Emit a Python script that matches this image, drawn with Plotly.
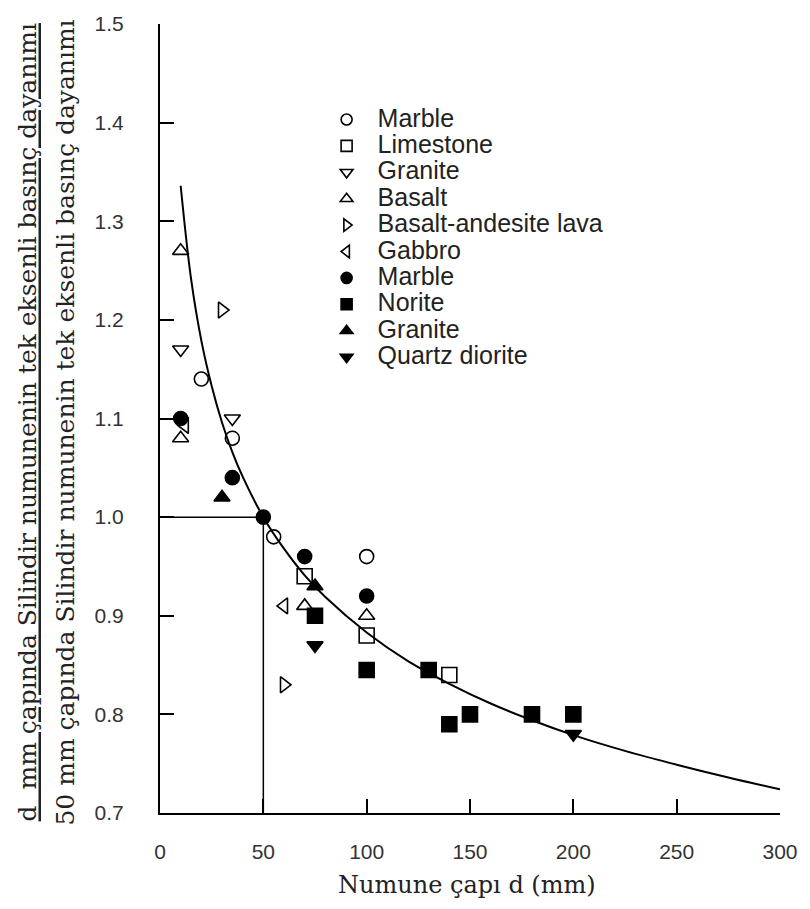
import plotly.graph_objects as go

# ---- data ----
series_names = ["Marble", "Limestone", "Granite", "Basalt", "Basalt-andesite lava",
                "Gabbro", "Marble", "Norite", "Granite", "Quartz diorite"]
series_symbols = ["circle-open", "square-open", "triangle-down-open", "triangle-up-open",
                  "triangle-right-open", "triangle-left-open", "circle", "square",
                  "triangle-up", "triangle-down"]

marble_open_x = [20, 35, 55, 100]
marble_open_y = [1.14, 1.08, 0.98, 0.96]
limestone_x = [70, 100, 140]
limestone_y = [0.94, 0.88, 0.84]
granite_open_x = [10, 35]
granite_open_y = [1.17, 1.10]
basalt_x = [10, 10, 70, 100]
basalt_y = [1.27, 1.08, 0.91, 0.90]
lava_x = [30, 60]
lava_y = [1.21, 0.83]
gabbro_x = [12, 60]
gabbro_y = [1.093, 0.91]
marble_fill_x = [10, 35, 50, 70, 100]
marble_fill_y = [1.10, 1.04, 1.00, 0.96, 0.92]
norite_x = [75, 100, 130, 140, 150, 180, 200]
norite_y = [0.90, 0.845, 0.845, 0.79, 0.80, 0.80, 0.80]
granite_fill_x = [30, 75]
granite_fill_y = [1.02, 0.93]
qdiorite_x = [75, 200]
qdiorite_y = [0.87, 0.78]

curve_x = [10, 15, 20, 25, 30, 35, 40, 50, 60, 70, 80, 100, 120, 140, 160, 180,
           200, 225, 250, 275, 300]
curve_y = [1.336, 1.242, 1.179, 1.133, 1.096, 1.066, 1.041, 1.000, 0.968, 0.941,
           0.919, 0.883, 0.854, 0.831, 0.811, 0.794, 0.779, 0.763, 0.749, 0.736, 0.724]

ref_x = [0, 50, 50]
ref_y = [1.0, 1.0, 0.7]

x_ticks = [0, 50, 100, 150, 200, 250, 300]
y_ticks = [0.7, 0.8, 0.9, 1.0, 1.1, 1.2, 1.3, 1.4, 1.5]

series_x = [marble_open_x, limestone_x, granite_open_x, basalt_x, lava_x, gabbro_x,
            marble_fill_x, norite_x, granite_fill_x, qdiorite_x]
series_y = [marble_open_y, limestone_y, granite_open_y, basalt_y, lava_y, gabbro_y,
            marble_fill_y, norite_y, granite_fill_y, qdiorite_y]

SERIF = "DejaVu Serif, Liberation Serif, serif"
SANS = "Liberation Sans, Arial, sans-serif"

fig = go.Figure()

fig.add_trace(go.Scatter(x=ref_x, y=ref_y, mode="lines",
                         line=dict(color="black", width=1.5), showlegend=False,
                         hoverinfo="skip"))
fig.add_trace(go.Scatter(x=curve_x, y=curve_y, mode="lines",
                         line=dict(color="black", width=2, shape="spline"),
                         showlegend=False))

for name, sym, xs, ys in zip(series_names, series_symbols, series_x, series_y):
    size = 15 if "square" in sym else 14
    fig.add_trace(go.Scatter(x=xs, y=ys, mode="markers", name=name, showlegend=False,
                             cliponaxis=False,
                             marker=dict(symbol=sym, size=size, color="black",
                                         line=dict(color="black", width=1.6))))

# legend entries (smaller symbols, larger text, tight rows like the reference key)
for name, sym in zip(series_names, series_symbols):
    fig.add_trace(go.Scatter(x=[None], y=[None], mode="markers",
                             name=f'<span style="font-size:25px">{name}</span>',
                             marker=dict(symbol=sym, size=11, color="black",
                                         line=dict(color="black", width=1.6))))

fig.update_layout(
    width=810, height=909,
    margin=dict(l=160, r=20, t=19, b=96),
    paper_bgcolor="white", plot_bgcolor="white",
    font=dict(family=SANS, color="#222"),
    legend=dict(x=0.251, y=0.902, xanchor="left", yanchor="top",
                bgcolor="rgba(0,0,0,0)", borderwidth=0,
                font=dict(size=18, family=SANS, color="#222"),
                itemwidth=52, itemsizing="trace"),
    xaxis=dict(range=[0, 300], tickvals=x_ticks, ticktext=[str(v) for v in x_ticks],
               showgrid=False, zeroline=False, showline=True, linecolor="black",
               linewidth=2, ticks="inside", ticklen=14, tickwidth=1.5, tickcolor="black",
               tickfont=dict(size=21, color="#333"), ticklabelstandoff=19),
    yaxis=dict(range=[0.7, 1.5], tickvals=y_ticks, ticktext=[f"{v:.1f}" for v in y_ticks],
               showgrid=False, zeroline=False, showline=True, linecolor="black",
               linewidth=2, ticks="inside", ticklen=14, tickwidth=1.5, tickcolor="black",
               tickfont=dict(size=21, color="#333"), ticklabelstandoff=30),
)

fig.add_annotation(text="Numune çapı d (mm)", xref="paper", yref="paper",
                   x=0.495, y=-0.091, xanchor="center", yanchor="middle", showarrow=False,
                   font=dict(family=SERIF, size=24, color="#222"))
fig.add_annotation(text="<u>d  mm çapında Silindir numunenin tek eksenli basınç dayanımı</u>",
                   xref="paper", yref="paper", x=-0.213, y=0.495, textangle=-90,
                   xanchor="center", yanchor="middle", showarrow=False,
                   font=dict(family=SERIF, size=25, color="#222"))
fig.add_annotation(text="50 mm çapında Silindir numunenin tek eksenli basınç dayanımı",
                   xref="paper", yref="paper", x=-0.153, y=0.495, textangle=-90,
                   xanchor="center", yanchor="middle", showarrow=False,
                   font=dict(family=SERIF, size=25, color="#222"))

fig.write_html("out.html")
